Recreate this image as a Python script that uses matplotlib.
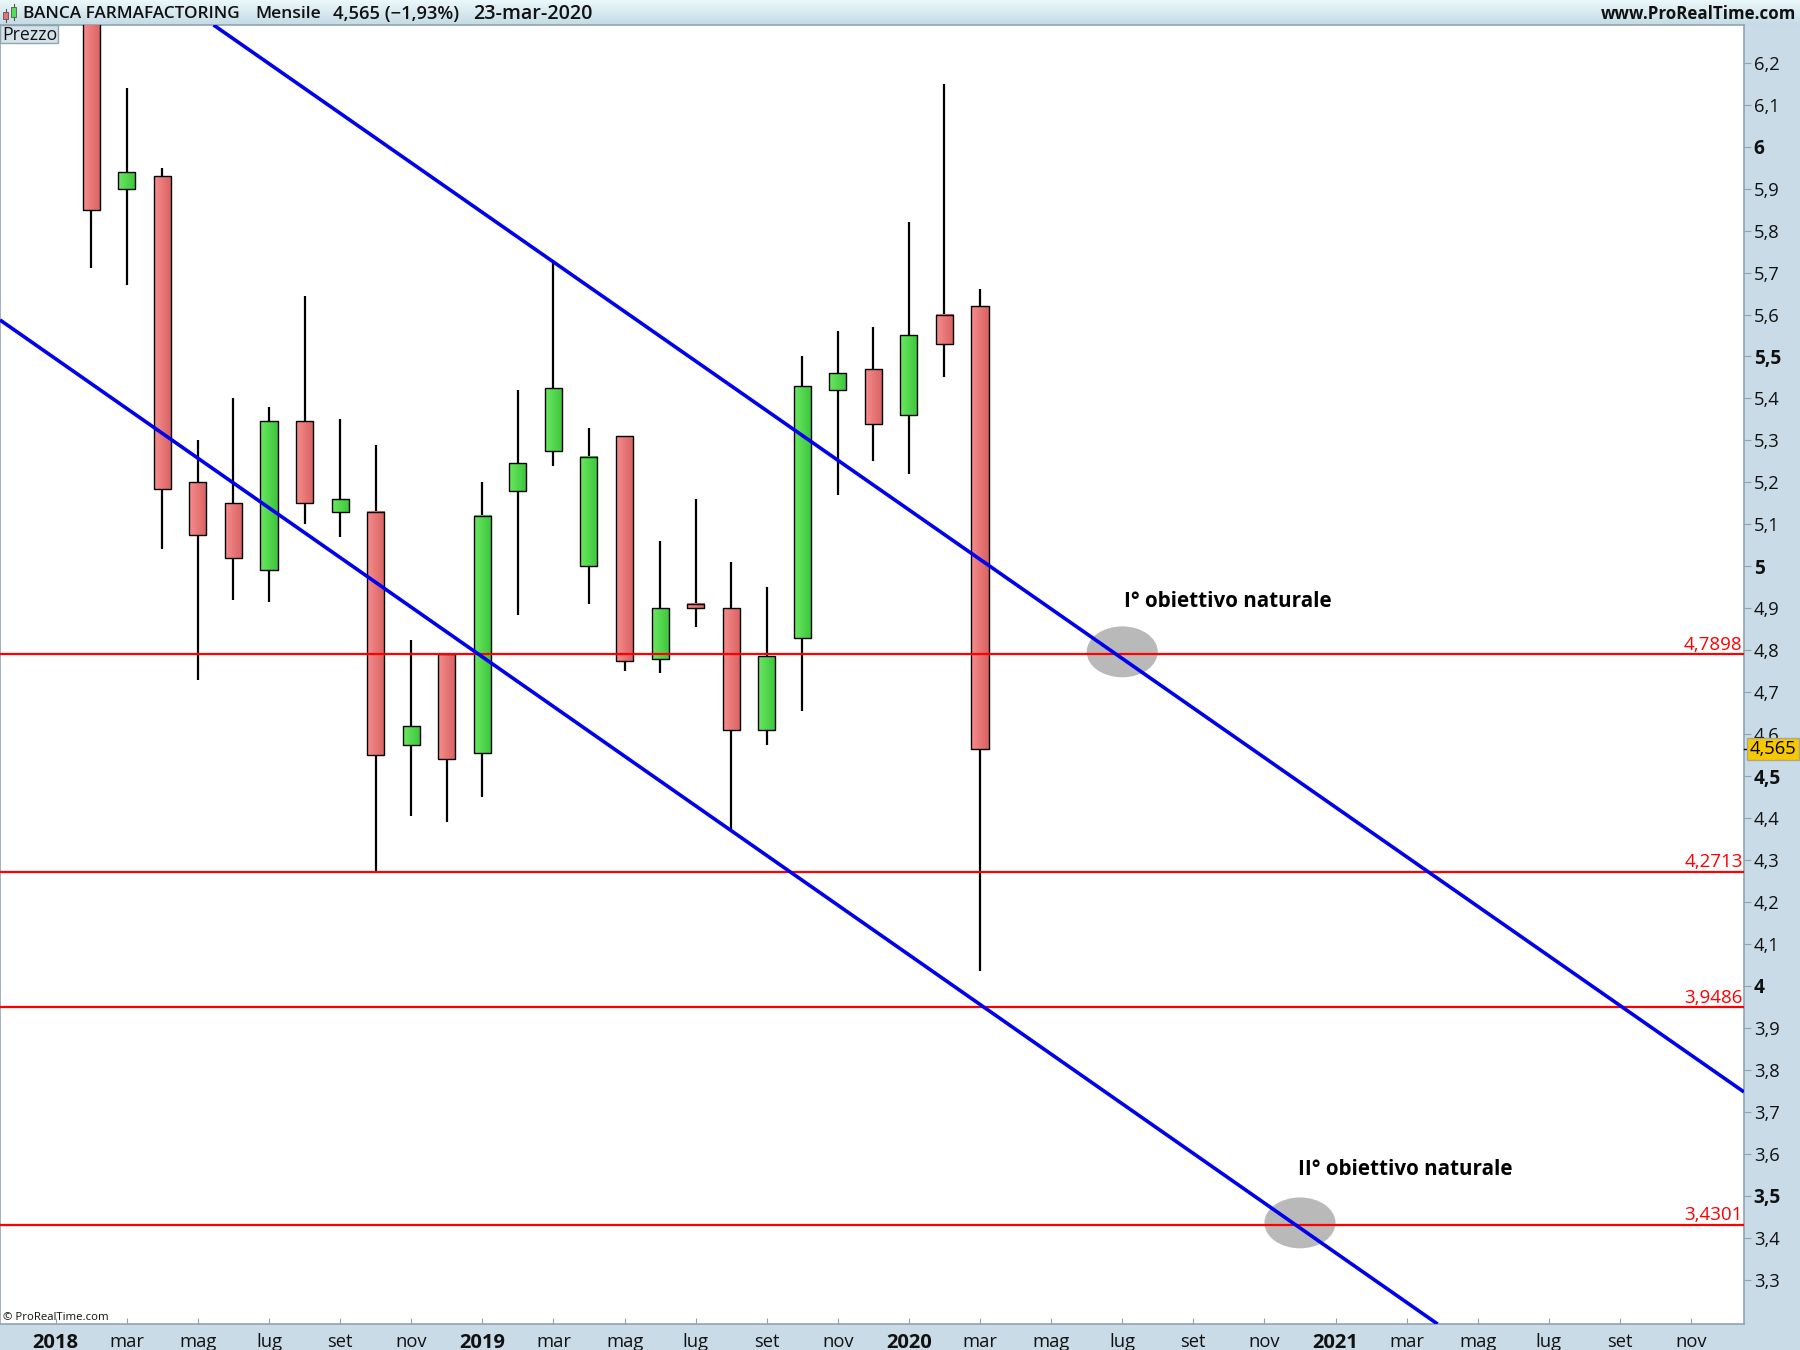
import numpy as np
import matplotlib
matplotlib.use('Agg')
import matplotlib.pyplot as plt
from matplotlib.patches import Ellipse, Rectangle

plt.rcParams['font.family'] = ['Open Sans', 'DejaVu Sans']

# months counted from jan 2018
months = [-2, 1, 2, 3, 4, 5, 6, 7, 8, 9, 10, 11, 12, 13, 14, 15, 16, 17, 18, 19, 20, 21, 22, 23, 24, 25, 26]
opens = [6.40, 6.38, 5.90, 5.93, 5.20, 5.15, 4.99, 5.345, 5.13, 5.13, 4.575, 4.79, 4.555, 5.18, 5.275, 5.00, 5.31, 4.78, 4.91, 4.90, 4.61, 4.83, 5.42, 5.47, 5.36, 5.60, 5.62]
closes = [6.35, 5.85, 5.94, 5.185, 5.075, 5.02, 5.345, 5.15, 5.16, 4.55, 4.62, 4.54, 5.12, 5.245, 5.425, 5.26, 4.775, 4.90, 4.90, 4.61, 4.785, 5.43, 5.46, 5.34, 5.55, 5.53, 4.565]
highs = [6.50, 6.55, 6.14, 5.95, 5.30, 5.40, 5.38, 5.645, 5.35, 5.29, 4.825, 4.79, 5.20, 5.42, 5.73, 5.33, 5.31, 5.06, 5.16, 5.01, 4.95, 5.50, 5.56, 5.57, 5.82, 6.15, 5.66]
lows = [6.21, 5.71, 5.67, 5.04, 4.73, 4.92, 4.915, 5.10, 5.07, 4.27, 4.405, 4.39, 4.45, 4.885, 5.24, 4.91, 4.75, 4.745, 4.855, 4.37, 4.575, 4.655, 5.17, 5.25, 5.22, 5.45, 4.035]

levels = [4.7898, 4.2713, 3.9486, 3.4301]
level_labels = ['4,7898', '4,2713', '3,9486', '3,4301']

upper_x = [4.44, 47.49]
upper_y = [6.29, 3.747]
lower_x = [-1.567, 38.87]
lower_y = [5.587, 3.194]

target_x = [30.0, 35.0]
target_y = [4.796, 3.435]
target_labels = ['I° obiettivo naturale', 'II° obiettivo naturale']

price_ticks = [3.3, 3.4, 3.5, 3.6, 3.7, 3.8, 3.9, 4.0, 4.1, 4.2, 4.3, 4.4, 4.5, 4.6, 4.7, 4.8, 4.9, 5.0,
               5.1, 5.2, 5.3, 5.4, 5.5, 5.6, 5.7, 5.8, 5.9, 6.0, 6.1, 6.2]
price_labels = ['3,3', '3,4', '3,5', '3,6', '3,7', '3,8', '3,9', '4', '4,1', '4,2', '4,3', '4,4', '4,5', '4,6', '4,7', '4,8',
                '4,9', '5', '5,1', '5,2', '5,3', '5,4', '5,5', '5,6', '5,7', '5,8', '5,9', '6', '6,1', '6,2']
bold_prices = ['3,5', '4', '4,5', '5', '5,5', '6']

month_ticks = [0, 2, 4, 6, 8, 10, 12, 14, 16, 18, 20, 22, 24, 26, 28, 30, 32, 34, 36, 38, 40, 42, 44, 46]
month_labels = ['2018', 'mar', 'mag', 'lug', 'set', 'nov', '2019', 'mar', 'mag', 'lug', 'set', 'nov',
                '2020', 'mar', 'mag', 'lug', 'set', 'nov', '2021', 'mar', 'mag', 'lug', 'set', 'nov']

last_price = 4.565

W, H = 1800, 1350
PANEL = '#c9dbe6'
EDGE = '#90a4b0'

fig = plt.figure(figsize=(W / 100, H / 100), dpi=100, facecolor=PANEL)

# header bar with its gradient
head = fig.add_axes([0, 1 - 25 / H, 1, 25 / H])
head.imshow(np.linspace(0, 1, 50).reshape(-1, 1), aspect='auto', cmap=matplotlib.colors.LinearSegmentedColormap.from_list('h', ['#ebf8fc', '#c4dae4']))
head.axis('off')

ax = fig.add_axes([0, (H - 1324) / H, 1744 / W, (1324 - 25) / H])
for s in ['left', 'right', 'bottom', 'top']:
    ax.spines[s].set_color(EDGE)
    ax.spines[s].set_linewidth(1.2)

ax.set_yticks(price_ticks)
ax.set_yticklabels(price_labels)
ax.yaxis.tick_right()
ax.tick_params(axis='y', length=5, color=EDGE, labelsize=13.2, pad=2, labelcolor='#111111')
ax.set_xticks(month_ticks)
ax.set_xticklabels(month_labels)
ax.tick_params(axis='x', direction='in', length=4, color=EDGE, labelsize=13.2, pad=6.5, labelcolor='#111111')
for lab in ax.get_yticklabels():
    if lab.get_text() in bold_prices:
        lab.set_fontweight('bold')
        lab.set_fontsize(13.8)
for lab in ax.get_xticklabels():
    if lab.get_text().isdigit():
        lab.set_fontweight('bold')
        lab.set_fontsize(14.5)

# target zones
for x, y in zip(target_x, target_y):
    ax.add_patch(Ellipse((x, y), 2.0, 0.1213, facecolor='#b9b9b9', edgecolor='none', zorder=1))

# candles
green_map = matplotlib.colors.LinearSegmentedColormap.from_list('g', ['#6ae860', '#3cc53c'])
red_map = matplotlib.colors.LinearSegmentedColormap.from_list('r', ['#f68c8c', '#d96262'])
for m, o, c, hi, lo in zip(months, opens, closes, highs, lows):
    ax.plot([m, m], [lo, hi], color='black', lw=1.6, zorder=2, solid_capstyle='butt')
    top = max(o, c)
    bottom = min(o, c)
    ax.imshow(np.linspace(0, 1, 20).reshape(1, -1), cmap=green_map if c >= o else red_map, aspect='auto',
              extent=(m - 0.24, m + 0.24, bottom, top), zorder=3)
    ax.add_patch(Rectangle((m - 0.24, bottom), 0.48, top - bottom, facecolor='none', edgecolor='black', lw=1.0, zorder=4))
ax.set_xlim(-1.567, 47.49)
ax.set_ylim(3.194, 6.29)

# support levels
for lev, lab in zip(levels, level_labels):
    ax.axhline(lev, color='#ff0000', lw=1.6, zorder=5)
    ax.annotate(lab, xy=(1, lev), xycoords=('axes fraction', 'data'), xytext=(-1, 0.5), textcoords='offset points',
                ha='right', va='bottom', color='#ff0000', fontsize=13.5)

# channel lines
ax.plot(upper_x, upper_y, color='#0000ee', lw=2.6, zorder=6, solid_capstyle='butt')
ax.plot(lower_x, lower_y, color='#0000ee', lw=2.6, zorder=6, solid_capstyle='butt')

ax.text(30.05, 4.917, target_labels[0], fontsize=14.9, fontweight='bold', color='black', va='center', zorder=7)
ax.text(34.95, 3.562, target_labels[1], fontsize=14.9, fontweight='bold', color='black', va='center', zorder=7)

# last price tag
ax.plot([1, 1.004], [last_price, last_price], transform=ax.get_yaxis_transform(), color='black', lw=1, clip_on=False, zorder=8)
ax.annotate('4,565', xy=(1, last_price), xycoords=('axes fraction', 'data'), xytext=(1773, H - 749), textcoords='figure pixels',
            ha='center', va='center', fontsize=13.2, color='black', zorder=8, annotation_clip=False,
            bbox=dict(boxstyle='square,pad=0.12', facecolor='#f7c800', edgecolor='#a8a890', lw=1))

fig.text(23 / W, 1 - 14 / H, 'BANCA FARMAFACTORING', fontsize=12.4, fontweight='semibold', va='center', color='#111111')
fig.text(255 / W, 1 - 14 / H, 'Mensile', fontsize=12.6, fontweight='semibold', va='center', color='#111111')
fig.text(333 / W, 1 - 14 / H, '4,565 (−1,93%)', fontsize=13.2, fontweight='semibold', va='center', color='#111111')
fig.text(473 / W, 1 - 14 / H, '23-mar-2020', fontsize=14.2, fontweight='semibold', va='center', color='#111111')
fig.text(1796 / W, 1 - 14 / H, 'www.ProRealTime.com', fontsize=12.2, fontweight='bold', ha='right', va='center', color='#111111')

# small candle icon in header
icon = fig.add_axes([0, 1 - 25 / H, 20 / W, 25 / H])
icon.set_xlim(0, 20)
icon.set_ylim(25, 0)
icon.axis('off')
icon.plot([6, 6], [9, 22], color='#555555', lw=0.8)
icon.add_patch(Rectangle((3, 12), 5, 7, facecolor='#e87070', edgecolor='#555555', lw=0.6, zorder=3))
icon.plot([14, 14], [4, 20], color='#555555', lw=0.8)
icon.add_patch(Rectangle((11, 7), 5, 10, facecolor='#55dd55', edgecolor='#555555', lw=0.6, zorder=3))

# Prezzo tab
fig.patches.append(Rectangle((0, 1 - 43 / H), 58 / W, 18 / H, transform=fig.transFigure, facecolor='#d3e2ea', edgecolor=EDGE, lw=1, zorder=5))
fig.text(2 / W, 1 - 35 / H, 'Prezzo', fontsize=12.8, va='center', color='#111111', zorder=6)

fig.text(3 / W, 1 - 1318 / H, '© ProRealTime.com', fontsize=8.2, va='center', color='#111111')

fig.savefig('out.png', dpi=100, facecolor=PANEL)
